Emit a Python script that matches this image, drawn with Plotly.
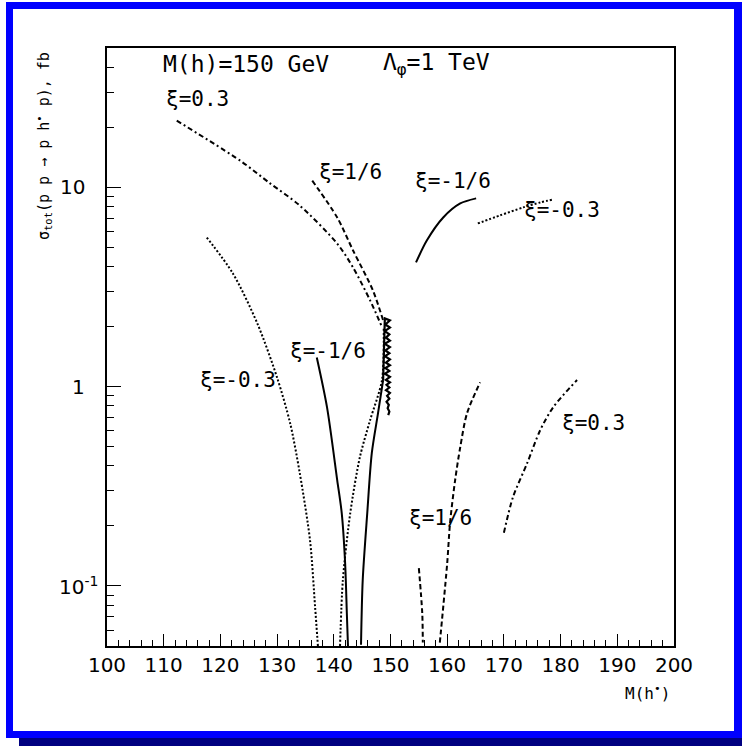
import plotly.graph_objects as go
import math

# ---------------- data ----------------
# xi = 0.3 (dash-dot)
xi03_a_x = [112.3, 123.5, 128.7, 134.0, 140.6, 143.4, 146.4, 148.5]
xi03_a_y = [21.6, 13.6, 10.5, 8.1, 5.22, 3.96, 2.71, 1.99]
xi03_b_x = [170.0, 171.6, 174.1, 176.4, 178.7, 182.9]
xi03_b_y = [0.185, 0.279, 0.413, 0.605, 0.789, 1.08]

# xi = 1/6 (dashed)
xi16_a_x = [136.2, 140.6, 143.4, 146.9, 148.7]
xi16_a_y = [10.8, 7.06, 4.82, 3.04, 2.15]
xi16_b_x = [155.0, 155.6, 155.7]
xi16_b_y = [0.123, 0.073, 0.052]
xi16_c_x = [158.7, 160.0, 160.5, 161.4, 162.3, 163.5, 165.8]
xi16_c_y = [0.052, 0.13, 0.207, 0.34, 0.497, 0.736, 1.05]

# xi = -1/6 (solid)
xim16_a_x = [137.0, 138.8, 140.6, 141.4, 142.0, 142.3, 142.5]
xim16_a_y = [1.40, 0.789, 0.34, 0.232, 0.130, 0.073, 0.05]
xim16_b_x = [144.8, 145.1, 145.9, 146.7, 147.8, 148.7]
xim16_b_y = [0.0507, 0.107, 0.232, 0.464, 0.736, 1.08]
xim16_c_x = [154.5, 156.4, 159.3, 162.3, 165.1]
xim16_c_y = [4.2, 5.41, 7.06, 8.3, 8.8]
# noisy region near the resonance (solid)
spike_x = [148.7,
           149.0, 149.9, 149.1, 149.9, 149.0, 149.8, 149.2, 149.9, 149.0, 149.9,
           149.1, 149.8, 149.0, 149.9, 149.2, 149.9, 149.1, 149.8, 149.0, 149.9,
           149.2, 149.9, 149.3, 149.8, 149.2, 149.9, 149.4, 149.8, 149.3, 149.7,
           149.5, 149.8, 149.6]
spike_y = [1.08,
           2.2, 2.15, 2.05, 1.98, 1.9, 1.83, 1.76, 1.7, 1.64, 1.58,
           1.52, 1.47, 1.42, 1.37, 1.32, 1.28, 1.24, 1.2, 1.16, 1.12,
           1.08, 1.05, 1.02, 0.99, 0.96, 0.93, 0.9, 0.87, 0.84, 0.81,
           0.78, 0.75, 0.72]

# xi = -0.3 (dotted)
xim03_a_x = [117.6, 122.2, 126.5, 130.0, 132.3, 134.0, 135.8, 136.7, 137.2]
xim03_a_y = [5.6, 3.70, 2.08, 1.11, 0.656, 0.368, 0.170, 0.0785, 0.05]
xim03_b_x = [141.1, 141.6, 142.9, 144.6, 146.4, 148.5, 148.8]
xim03_b_y = [0.05, 0.107, 0.232, 0.443, 0.679, 1.08, 2.0]
xim03_c_x = [165.4, 169.3, 173.4, 176.4, 178.7]
xim03_c_y = [6.59, 7.23, 7.93, 8.40, 8.69]

x_tick_values = list(range(100, 201, 10))
y_tick_values = [0.1, 1, 10]
y_tick_labels = ["10<sup>-1</sup>", "1", "10"]
y_minor_values = [0.05, 0.06, 0.07, 0.08, 0.09,
                  0.2, 0.3, 0.4, 0.5, 0.6, 0.7, 0.8, 0.9,
                  2, 3, 4, 5, 6, 7, 8, 9, 20, 30, 40]

curve_labels = ["ξ=0.3", "ξ=1/6", "ξ=-1/6", "ξ=-0.3",
                "ξ=-1/6", "ξ=-0.3", "ξ=1/6", "ξ=0.3"]

# ---------------- styling / layout ----------------
W, H = 742, 746
L, R, T, B = 107, 674, 48, 646
PW, PH = R - L, B - T

def px(xp):
    return (xp - L) / PW

def py(yp):
    return (B - yp) / PH

def dx(xp):
    return 100 + (xp - L) / PW * 100

def dly(yp):
    return math.log10(50) - (yp - T) / PH * 3.0

fig = go.Figure()

def add(xs, ys, dash, width, shape="spline"):
    fig.add_trace(go.Scatter(x=xs, y=ys, mode="lines",
                             line=dict(color="black", width=width, dash=dash,
                                       shape=shape, smoothing=0.8),
                             showlegend=False, hoverinfo="skip"))

DASHDOT = "5px,3px,2px,3px"
DASH = "5px,3px"
DOT = "2px,2px"

add(xi03_a_x, xi03_a_y, DASHDOT, 2)
add(xi03_b_x, xi03_b_y, DASHDOT, 2)
add(xi16_a_x, xi16_a_y, DASH, 2)
add(xi16_b_x, xi16_b_y, DASH, 2)
add(xi16_c_x, xi16_c_y, DASH, 2)
add(xim16_a_x, xim16_a_y, "solid", 2)
add(xim16_b_x, xim16_b_y, "solid", 2)
add(xim16_c_x, xim16_c_y, "solid", 2)
add(spike_x, spike_y, "solid", 2.2, shape="linear")
add(xim03_a_x, xim03_a_y, DOT, 2)
add(xim03_b_x, xim03_b_y, DOT, 2)
add(xim03_c_x, xim03_c_y, DOT, 2)

mono = dict(family="DejaVu Sans Mono", size=21, color="black")
label_pos = [(164, 99), (317, 172), (413, 181), (522, 210),
             (288, 351), (198, 380), (407, 518), (560, 423)]
annotations = []
for txt, (lx, ly) in zip(curve_labels, label_pos):
    annotations.append(dict(x=dx(lx), y=dly(ly), xref="x", yref="y",
                            text=txt, showarrow=False, xanchor="left",
                            yanchor="middle", font=mono))

top_font = dict(family="DejaVu Sans Mono", size=23, color="black")
annotations.append(dict(x=px(161), y=py(64), xref="paper", yref="paper",
                        text="M(h)=150 GeV", showarrow=False,
                        xanchor="left", yanchor="middle", font=top_font))
annotations.append(dict(x=px(381), y=py(64), xref="paper", yref="paper",
                        text="Λ<sub>φ</sub>=1 TeV", showarrow=False,
                        xanchor="left", yanchor="middle", font=top_font))

# y tick labels
tick_font = dict(family="DejaVu Sans", size=20, color="black")
for v, t in zip(y_tick_values, y_tick_labels):
    right = 100 if "sup" in t else 87
    annotations.append(dict(x=px(right), y=math.log10(v), xref="paper", yref="y",
                            text=t, showarrow=False, xanchor="right",
                            yanchor="middle", font=tick_font))

# axis titles
annotations.append(dict(x=px(43), y=py(146), xref="paper", yref="paper",
                        text="σ<sub>tot</sub>(p p → p h<sup>•</sup> p), fb",
                        showarrow=False, textangle=-90, xanchor="center",
                        yanchor="middle",
                        font=dict(family="DejaVu Sans Mono", size=15, color="black")))
annotations.append(dict(x=px(672), y=py(692), xref="paper", yref="paper",
                        text="M(h<sup>•</sup>)", showarrow=False,
                        xanchor="right", yanchor="middle",
                        font=dict(family="DejaVu Sans Mono", size=16, color="black")))

shapes = [
    dict(type="rect", xref="paper", yref="paper", layer="below",
         x0=px(19), x1=px(742), y0=py(746), y1=py(738),
         fillcolor="#000080", line=dict(width=0)),
    dict(type="rect", xref="paper", yref="paper", layer="below",
         x0=px(6), x1=px(742), y0=py(738), y1=py(2),
         fillcolor="#0000ff", line=dict(width=0)),
    dict(type="rect", xref="paper", yref="paper", layer="below",
         x0=px(13), x1=px(734), y0=py(731), y1=py(9),
         fillcolor="white", line=dict(width=0)),
]

fig.update_layout(
    width=W, height=H, autosize=False,
    margin=dict(l=L, r=W - R, t=T, b=H - B, pad=0),
    paper_bgcolor="white", plot_bgcolor="rgba(0,0,0,0)",
    annotations=annotations, shapes=shapes,
    xaxis=dict(range=[100, 200], tickvals=x_tick_values,
               ticks="inside", ticklen=12, tickwidth=1, tickcolor="black",
               showline=True, linecolor="black", linewidth=1.5, mirror=True,
               showgrid=False, zeroline=False, tickfont=tick_font,
               ticklabelstandoff=0,
               minor=dict(dtick=2, tick0=100, ticks="inside", ticklen=6,
                          tickwidth=1, tickcolor="black", showgrid=False)),
    yaxis=dict(type="log", range=[math.log10(0.05), math.log10(50)],
               tickvals=y_tick_values, ticktext=y_tick_labels,
               showticklabels=False,
               ticks="inside", ticklen=14, tickwidth=1, tickcolor="black",
               showline=True, linecolor="black", linewidth=1.5, mirror=True,
               showgrid=False, zeroline=False,
               minor=dict(tickvals=y_minor_values, ticks="inside", ticklen=7,
                          tickwidth=1, tickcolor="black", showgrid=False)),
)

fig.write_html("out.html", config={"displayModeBar": False},
               post_script="document.body.style.margin='0px';")
